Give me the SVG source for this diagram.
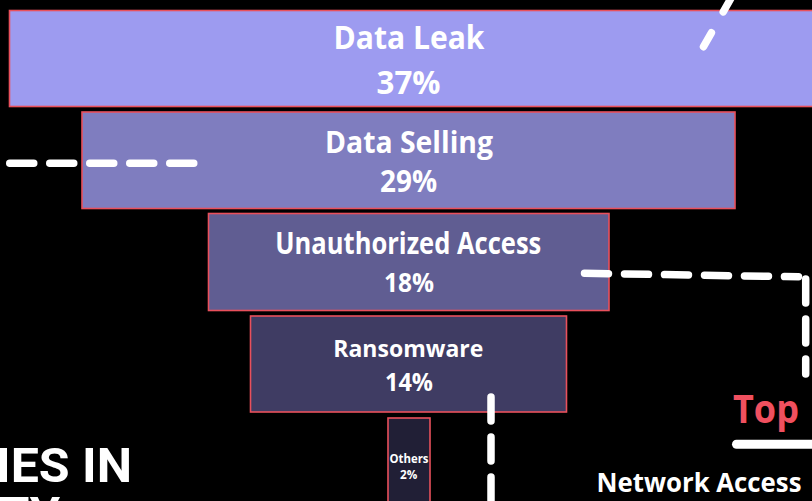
<svg xmlns="http://www.w3.org/2000/svg" width="812" height="501" viewBox="0 0 812 501">
  <style>
    .box { stroke: #E9505C; stroke-width: 1.6; }
    .lbl { font-family: "Open Sans", "Noto Sans", "Liberation Sans", sans-serif; font-weight: 700; fill: #FFFFFF; text-anchor: middle; }
    .dash { fill: none; stroke: #FFFFFF; stroke-width: 7.5; stroke-linecap: round; stroke-dasharray: 24 16; }
    .title { font-family: Roboto, "Liberation Sans", sans-serif; font-weight: 700; fill: #FFFFFF; }
  </style>
  <rect x="0" y="0" width="812" height="501" fill="#000000"/>

  <g id="node-data-leak">
    <rect class="box" x="9.5" y="10.5" width="820" height="96" fill="#9D9BF0"/>
    <text class="lbl" x="409" y="48.5" font-size="33" textLength="151" lengthAdjust="spacingAndGlyphs">Data Leak</text>
    <text class="lbl" x="408.5" y="94" font-size="33" textLength="64" lengthAdjust="spacingAndGlyphs">37%</text>
  </g>

  <g id="node-data-selling">
    <rect class="box" x="82" y="112" width="653" height="96.5" fill="#7F7DBF"/>
    <text class="lbl" x="409" y="152.5" font-size="30.5" textLength="168" lengthAdjust="spacingAndGlyphs">Data Selling</text>
    <text class="lbl" x="408.5" y="191.7" font-size="29.5" textLength="57" lengthAdjust="spacingAndGlyphs">29%</text>
  </g>

  <g id="node-unauthorized-access">
    <rect class="box" x="208.5" y="213.5" width="400.5" height="97" fill="#605D92"/>
    <text class="lbl" x="408.3" y="254.3" font-size="29.5" textLength="266" lengthAdjust="spacingAndGlyphs">Unauthorized Access</text>
    <text class="lbl" x="409" y="291.7" font-size="26" textLength="50" lengthAdjust="spacingAndGlyphs">18%</text>
  </g>

  <g id="node-ransomware">
    <rect class="box" x="250.5" y="316" width="316" height="96" fill="#3F3C63"/>
    <text class="lbl" x="408.3" y="356.7" font-size="22.4" textLength="150" lengthAdjust="spacingAndGlyphs">Ransomware</text>
    <text class="lbl" x="409" y="390.7" font-size="25" textLength="48" lengthAdjust="spacingAndGlyphs">14%</text>
  </g>

  <g id="node-others">
    <rect class="box" x="388" y="418" width="42" height="100" fill="#211F36"/>
    <text class="lbl" x="409" y="462.5" font-size="12" textLength="39" lengthAdjust="spacingAndGlyphs">Others</text>
    <text class="lbl" x="408.6" y="479" font-size="12" textLength="17.3" lengthAdjust="spacingAndGlyphs">2%</text>
  </g>

  <g id="connectors">
    <path class="dash" d="M9.75,163.3 L193.75,163.3"/>
    <path class="dash" d="M584.5,273.3 L798.5,276.8"/>
    <path class="dash" d="M805.7,279 L805.7,374"/>
    <path class="dash" d="M491,397 L491,530"/>
    <path class="dash" style="stroke-dasharray: 16 24" d="M703.5,46.7 L740,-17.7"/>
  </g>

  <g id="labels">
    <text x="766" y="422.5" font-family="'Open Sans', 'Noto Sans', 'Liberation Sans', sans-serif" font-weight="700" font-size="39" fill="#F0505F" text-anchor="middle" textLength="66" lengthAdjust="spacingAndGlyphs">Top</text>
    <line x1="736.5" y1="444.3" x2="830" y2="444.3" stroke="#FFFFFF" stroke-width="9" stroke-linecap="round"/>
    <text x="699" y="492" font-family="'Open Sans', 'Noto Sans', 'Liberation Sans', sans-serif" font-weight="700" font-size="26.6" fill="#FFFFFF" text-anchor="middle" textLength="205" lengthAdjust="spacingAndGlyphs">Network Access</text>
    <text class="title" x="-4" y="482" font-size="49" textLength="136" lengthAdjust="spacingAndGlyphs">IES IN</text>
    <text class="title" x="-1" y="531" font-size="49">TY</text>
  </g>
</svg>
